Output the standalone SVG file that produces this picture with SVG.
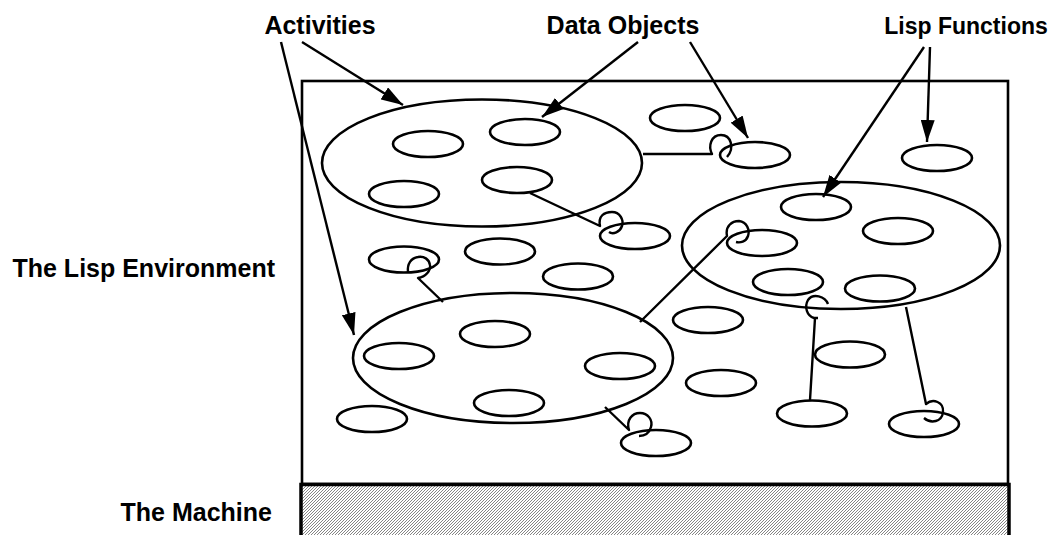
<svg xmlns="http://www.w3.org/2000/svg" width="1060" height="535" viewBox="0 0 1060 535">
<style>
.lbl{font-family:"Liberation Sans",Arial,Helvetica,sans-serif;font-weight:bold;font-size:25px;fill:#000}
.o{fill:none;stroke:#000;stroke-width:2.6}
.c{fill:none;stroke:#000;stroke-width:2.4;stroke-linecap:butt;stroke-linejoin:round}
.a{fill:none;stroke:#000;stroke-width:2.4;marker-end:url(#ah)}
</style>
<defs>
<marker id="ah" markerUnits="userSpaceOnUse" markerWidth="24" markerHeight="14" refX="22" refY="7" orient="auto">
<path d="M0,0 L22,7 L0,14 z" fill="#000"/>
</marker>
<pattern id="hatch" patternUnits="userSpaceOnUse" width="3" height="3">
<rect width="3" height="3" fill="#fff"/>
<path d="M-1,1 L1,-1 M0,3 L3,0 M2,4 L4,2" stroke="#666" stroke-width="0.8"/>
</pattern>
</defs>

<g id="labels">
<text class="lbl" x="320" y="34" text-anchor="middle">Activities</text>
<text class="lbl" x="623" y="34" text-anchor="middle">Data Objects</text>
<text class="lbl" x="966" y="34" text-anchor="middle" style="font-size:23px">Lisp Functions</text>
<text class="lbl" x="275" y="277" text-anchor="end">The Lisp Environment</text>
<text class="lbl" x="272" y="521" text-anchor="end">The Machine</text>
</g>

<g id="environment">
<rect x="302" y="81" width="706" height="403" fill="#fff" stroke="#000" stroke-width="2.6"/>
</g>
<g id="machine">
<rect x="301" y="484.5" width="708" height="60" fill="url(#hatch)" stroke="#000" stroke-width="3.5"/>
</g>

<g id="activity1"><ellipse class="o" cx="482" cy="163" rx="160" ry="63.5"/></g>
<g id="activity2"><ellipse class="o" cx="841" cy="245.5" rx="159" ry="63.5"/></g>
<g id="activity3"><ellipse class="o" cx="513" cy="358" rx="160" ry="65"/></g>

<g id="objects">
<g id="o1"><ellipse class="o" cx="428" cy="144" rx="35" ry="13"/></g>
<g id="o2"><ellipse class="o" cx="525" cy="132" rx="35" ry="13"/></g>
<g id="o3"><ellipse class="o" cx="404" cy="194" rx="35" ry="13"/></g>
<g id="o4"><ellipse class="o" cx="517" cy="180" rx="35" ry="13"/></g>
<g id="o5"><ellipse class="o" cx="685" cy="118" rx="35" ry="13"/></g>
<g id="o6"><ellipse class="o" cx="755" cy="155" rx="35" ry="13"/></g>
<g id="o7"><ellipse class="o" cx="937" cy="158" rx="35" ry="13"/></g>
<g id="o8"><ellipse class="o" cx="635" cy="236" rx="35" ry="13"/></g>
<g id="o9"><ellipse class="o" cx="816" cy="207" rx="35" ry="13"/></g>
<g id="o10"><ellipse class="o" cx="898" cy="231" rx="35" ry="13"/></g>
<g id="o11"><ellipse class="o" cx="762" cy="243" rx="35" ry="13"/></g>
<g id="o12"><ellipse class="o" cx="788" cy="282" rx="35" ry="13"/></g>
<g id="o13"><ellipse class="o" cx="880" cy="288.5" rx="35" ry="13"/></g>
<g id="o14"><ellipse class="o" cx="404" cy="259.5" rx="35" ry="13"/></g>
<g id="o15"><ellipse class="o" cx="500" cy="251.5" rx="35" ry="13"/></g>
<g id="o16"><ellipse class="o" cx="578" cy="276.5" rx="35" ry="13"/></g>
<g id="o17"><ellipse class="o" cx="708" cy="320" rx="35" ry="13"/></g>
<g id="o18"><ellipse class="o" cx="850" cy="354.5" rx="35" ry="13"/></g>
<g id="o19"><ellipse class="o" cx="721" cy="383" rx="35" ry="13"/></g>
<g id="o20"><ellipse class="o" cx="812" cy="413.5" rx="35" ry="13"/></g>
<g id="o21"><ellipse class="o" cx="924" cy="424" rx="35" ry="13"/></g>
<g id="o22"><ellipse class="o" cx="372" cy="419" rx="35" ry="13"/></g>
<g id="o23"><ellipse class="o" cx="656" cy="443" rx="35" ry="13"/></g>
<g id="o24"><ellipse class="o" cx="495" cy="334" rx="35" ry="13"/></g>
<g id="o25"><ellipse class="o" cx="399" cy="356" rx="35" ry="13"/></g>
<g id="o26"><ellipse class="o" cx="620" cy="366" rx="35" ry="13"/></g>
<g id="o27"><ellipse class="o" cx="509" cy="403" rx="35" ry="13"/></g>
</g>

<g id="connectors">
<line class="a" x1="281" y1="42" x2="354" y2="335"/>
<line class="a" x1="302" y1="42" x2="403" y2="105"/>
<line class="a" x1="638" y1="42" x2="542" y2="117"/>
<line class="a" x1="690" y1="42" x2="748" y2="138"/>
<line class="a" x1="924" y1="47" x2="823" y2="197"/>
<line class="a" x1="930" y1="47" x2="927" y2="142"/>
<path class="c" d="M643,154 L712,154 C708,146 711,135 721,135 C731,135 735,148 727,157"/>
<path class="c" d="M530,193 L600,226 C598,216 604,212 612,212 C620,212 624,220 622,226 C620,232 613,235 609,232"/>
<path class="c" d="M640,322 L727,236 C725,226 732,221 739,221 C747,222 750,230 748,236 C746,242 740,243 736,242"/>
<path class="c" d="M443,302 L418,278 C426,277 431,270 430,265 C429,259 424,256 418,257 C411,258 407,264 408,272"/>
<path class="c" d="M605,407 L629,430 C626,420 632,413 640,413 C648,413 653,420 651,427 C649,434 644,436 639,436"/>
<path class="c" d="M828,304 C825,296 813,293 808,300 C804,307 807,316 814,318 L818,318 M815,318 L810,400"/>
<path class="c" d="M906,307 L926,404 C933,398 944,402 943,412 C942,422 931,424 924,418"/>
</g>
</svg>
